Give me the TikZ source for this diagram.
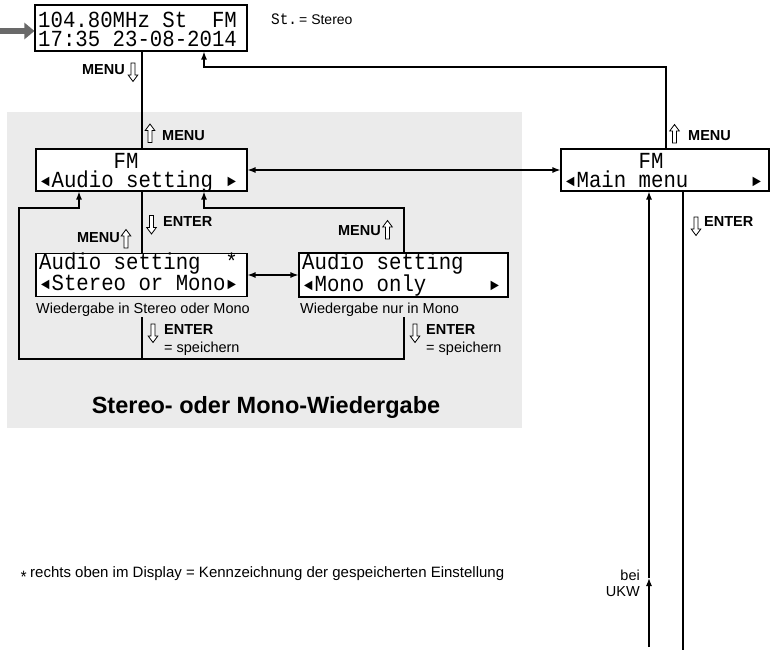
\documentclass[tikz,border=0pt]{standalone}
\usepackage{fontspec}
\setmainfont{Liberation Sans}
\newfontfamily\lcdfont{Liberation Mono}[FakeStretch=0.9]
\usetikzlibrary{arrows.meta}
\definecolor{graybg}{RGB}{235,235,235}
\definecolor{grayarr}{RGB}{105,105,105}
\newcommand\lcdL{\makebox[12.42pt]{\raisebox{0.5pt}{\fontsize{16}{16}\selectfont ◄}}}
\newcommand\lcdR{\makebox[12.42pt]{\raisebox{0.5pt}{\fontsize{16}{16}\selectfont ►}}}
\newcommand\lcdsp{\spaceskip=0pt\xspaceskip=0pt\relax}
\tikzset{
  box/.style={draw, line width=1.1pt, fill=white, inner sep=0pt},
  lcd/.style={font=\lcdfont\fontsize{23}{19}\selectfont, inner sep=0pt, anchor=base west, text width=200pt, align=left},
  con/.style={line width=1.2pt},
  arr/.style={con, -{Latex[length=8pt,width=6pt]}},
  darr/.style={con, {Latex[length=8pt,width=6pt]}-{Latex[length=8pt,width=6pt]}},
  lbl/.style={font=\bfseries\fontsize{14.5}{15}\selectfont, inner sep=0pt},
  txt/.style={font=\fontsize{14.5}{15}\selectfont, inner sep=0pt},
  hup/.pic={\draw[line width=0.8pt, fill=white] (-2,9) -- (-2,-3) -- (-4.8,-3) -- (0,-9.5) -- (4.8,-3) -- (2,-3) -- (2,9) -- cycle;},
  hdown/.pic={\draw[line width=0.8pt, fill=white] (-2,-9) -- (-2,3) -- (-4.8,3) -- (0,9.5) -- (4.8,3) -- (2,3) -- (2,-9) -- cycle;}
}
\begin{document}
\begin{tikzpicture}[x=1pt,y=-1pt]
\useasboundingbox (0,0) rectangle (771,650);
\fill[graybg] (7,112) rectangle (522,428);

% boxes
\node[box, minimum width=212pt, minimum height=46pt] (top) at (141,28) {};
\node[box, minimum width=211pt, minimum height=42pt] (audio) at (141.5,170) {};
\node[box, minimum width=211pt, minimum height=43pt] (stereo) at (141.5,275) {};
\node[box, minimum width=209pt, minimum height=44pt] (mono) at (403.5,275) {};
\node[box, minimum width=208pt, minimum height=42pt] (mainm) at (665,170) {};

% LCD texts
\node[lcd] (tt) at (38,28) {\lcdsp 104.80MHz~St~~FM\\17:35~23-08-2014};
\node[lcd] (at) at (39,168) {\lcdsp ~~~~~~FM\\\lcdL Audio~setting~\lcdR};
\node[lcd] (stt) at (39,269) {\lcdsp Audio~setting~~*\\\lcdL Stereo~or~Mono\lcdR};
\node[lcd] (mt) at (302,269) {\lcdsp Audio~setting\\\lcdL Mono~only~~~~~\lcdR};
\node[lcd] (ht) at (564,168) {\lcdsp ~~~~~~FM\\\lcdL Main~menu~~~~~\lcdR};

% St. = Stereo
\node[inner sep=0pt, anchor=base west, font=\lcdfont\fontsize{16}{16}\selectfont] (st) at (271,25) {St.};
\node[txt, anchor=base west, font=\fontsize{14}{14}\selectfont] (steq) at (299,25) {= Stereo};

% gray input arrow
\coordinate (gin) at (0,31);
\draw[line width=6pt, grayarr, -{Triangle[length=10pt,width=16pt]}] (gin) -- (gin -| top.west);

% x positions
\coordinate (cA) at (142,0);
\coordinate (cB) at (204,0);
\coordinate (cC) at (79,0);
\coordinate (cD) at (404,0);
\coordinate (cF) at (666,0);
\coordinate (cG) at (649,0);
\coordinate (cH) at (683,0);

% connectors
\draw[con] (top.south -| cA) -- (audio.north -| cA);
\coordinate (rt) at (666,67);
\draw[arr] (mainm.north -| cF) -- (rt) -| (top.south -| cB);
\draw[darr] (audio.east) -- (mainm.west);
\draw[con] (audio.south -| cA) -- (stereo.north -| cA);
\coordinate (mr) at (404,208);
\draw[arr] (mono.north -| cD) -- (mr) -| (audio.south -| cB);
\draw[darr] (stereo.east) -- (mono.west);
\coordinate (sc) at (142,317);
\coordinate (mc) at (404,317);
\coordinate (bl) at (19,359);
\coordinate (lt) at (19,208);
\draw[arr] (mc) |- (bl) -- (lt) -| (audio.south -| cC);
\draw[con] (sc) -- (sc |- bl);
\coordinate (ub) at (649,647);
\coordinate (um) at (649,578);
\coordinate (eb) at (683,650);
\draw[arr] (ub) -- (um);
\draw[arr] (um) -- (mainm.south -| cG);
\draw[con] (mainm.south -| cH) -- (eb);

% key labels
\node[lbl, anchor=east] (k1) at (125,70) {MENU};
\pic at (133,72) {hdown};
\pic at (150,133.5) {hup};
\node[lbl, anchor=west] (k2) at (162,135.5) {MENU};
\pic at (151.5,224.5) {hdown};
\node[lbl, anchor=west] (k3) at (163,222) {ENTER};
\node[lbl, anchor=east] (k4) at (120,238) {MENU};
\pic at (126,239) {hup};
\node[lbl, anchor=east] (k5) at (381,231) {MENU};
\pic at (387.5,230) {hup};
\pic at (153,333) {hdown};
\node[lbl, anchor=west] (k6) at (164,330) {ENTER};
\node[txt, anchor=base west] (k6b) at (164,352) {= speichern};
\pic at (415,333) {hdown};
\node[lbl, anchor=west] (k7) at (426,330) {ENTER};
\node[txt, anchor=base west] (k7b) at (426,352) {= speichern};
\pic at (674.5,134) {hup};
\node[lbl, anchor=west] (k8) at (688,136) {MENU};
\pic at (696,226) {hdown};
\node[lbl, anchor=west] (k9) at (704,222) {ENTER};

% captions
\node[txt, anchor=base west] (c1) at (36,313.5) {Wiedergabe in Stereo oder Mono};
\node[txt, anchor=base west] (c2) at (300,313) {Wiedergabe nur in Mono};
\node[inner sep=0pt, anchor=base, font=\bfseries\fontsize{23.5}{24}\selectfont] (title) at (266,413) {Stereo- oder Mono-Wiedergabe};
\node[inner sep=0pt, anchor=base west, font=\lcdfont\fontsize{17}{17}\selectfont] (fs) at (19,583) {*};
\node[txt, anchor=base west, font=\fontsize{15}{15}\selectfont] (fn) at (30,577) {rechts oben im Display = Kennzeichnung der gespeicherten Einstellung};
\node[txt, anchor=base east] (bei) at (640,580) {bei};
\node[txt, anchor=base east] (ukw) at (640,596) {UKW};
\end{tikzpicture}
\end{document}
